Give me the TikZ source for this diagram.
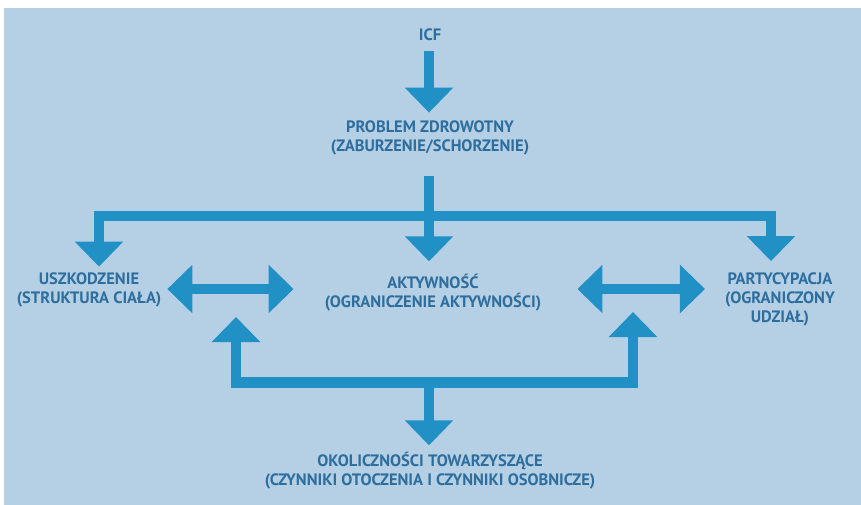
\documentclass[tikz,border=0pt]{standalone}
\usepackage{fontspec}
\setmainfont{PT Sans}
\usetikzlibrary{arrows.meta}
\definecolor{bgblue}{HTML}{B5D0E5}
\definecolor{arrblue}{HTML}{2190C4}
\definecolor{txtblue}{HTML}{2D6E9E}

\begin{document}
\begin{tikzpicture}[x=1pt,y=-1pt,
  txt/.style={font=\fontsize{16.5}{19}\selectfont\bfseries,text=txtblue,align=center,inner sep=0pt},
  flow/.style={draw=arrblue,line width=10.5pt,-{Triangle[width=47pt,length=25pt]}},
  both/.style={flow,{Triangle[width=47pt,length=25pt]}-{Triangle[width=47pt,length=25pt]}}]
 \useasboundingbox (0,0) rectangle (861,505);
 \fill[white] (0,0) rectangle (861,505);
 \fill[bgblue] (4,8) rectangle (861,505);

 \node[txt] (I) at(430,35) {ICF};
 \node[txt] (P) at(430,138) {PROBLEM ZDROWOTNY\\(ZABURZENIE/SCHORZENIE)};
 \node[txt] (U) at(89,290) {USZKODZENIE\\(STRUKTURA CIAŁA)};
 \node[txt] (A) at(433,293) {AKTYWNOŚĆ\\(OGRANICZENIE AKTYWNOŚCI)};
 \node[txt] (R) at(780,299) {PARTYCYPACJA\\(OGRANICZONY\\UDZIAŁ)};
 \node[txt] (O) at(430,471) {OKOLICZNOŚCI TOWARZYSZĄCE\\(CZYNNIKI OTOCZENIA I CZYNNIKI OSOBNICZE)};

 \coordinate (S) at(429,216);
 \coordinate (J) at(429,382.5);
 \coordinate (M) at(0,289);
 \coordinate (L) at(236,317);
 \coordinate (K) at(633,312);

 \draw[flow,shorten <=10pt,shorten >=8pt] (I.south -| S) -- (P.north -| S);
 \draw[flow,shorten <=21pt,shorten >=13pt] (P.south -| S) -- (A.north -| S);
 \draw[flow,shorten >=6pt] (S) -| ([xshift=10pt]U.north);
 \draw[flow,shorten >=11pt] (S) -| ([xshift=-9pt]R.north);

 \draw[both,shorten <=6pt,shorten >=31pt] (U.east |- M) -- (A.west |- M);
 \draw[both,shorten <=36pt,shorten >=20pt] (A.east |- M) -- (R.west |- M);

 \draw[flow] (J) -| (L);
 \draw[flow] (J) -| (K);
 \draw[flow,shorten >=7pt] (J) -- (O.north -| J);
\end{tikzpicture}
\end{document}
